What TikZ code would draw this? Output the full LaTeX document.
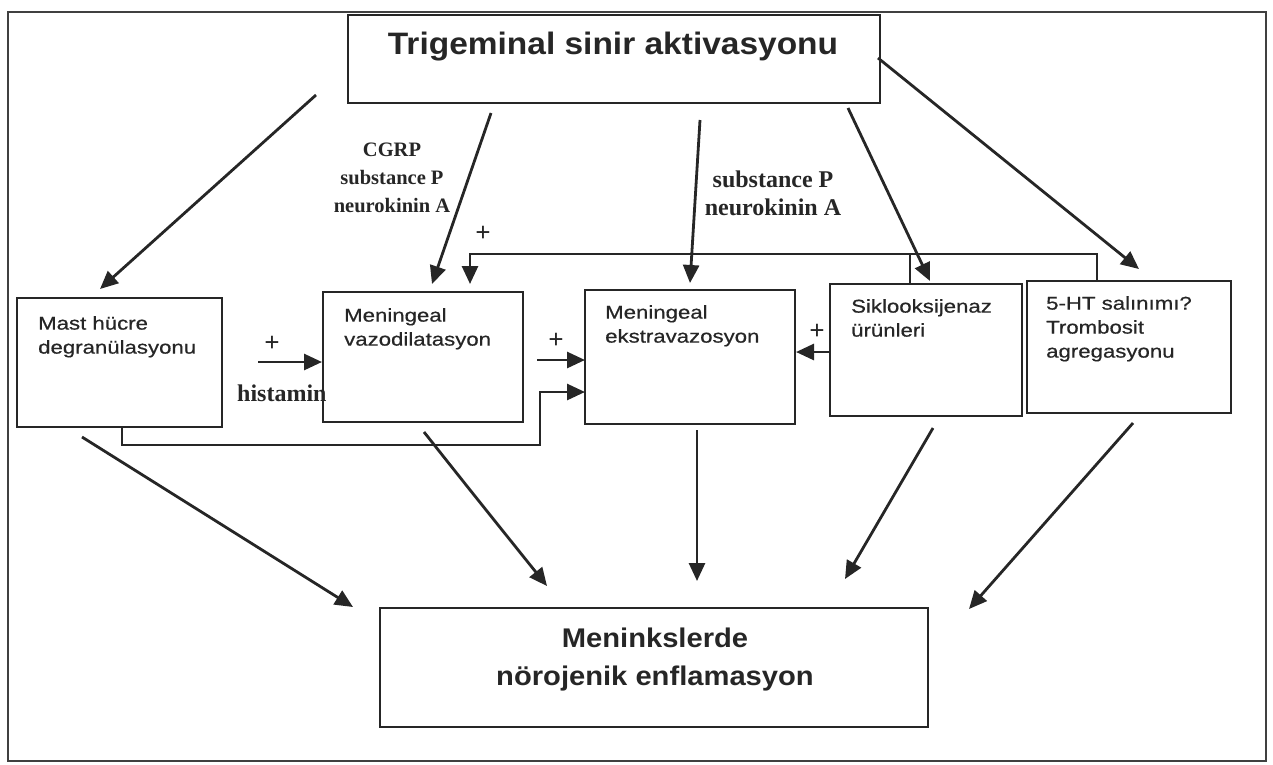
\documentclass[tikz,border=0pt]{standalone}
\usepackage{fontspec}
\setmainfont{Liberation Sans}
\newfontfamily\seriffam{Liberation Serif}
\newfontfamily\boxfont[FakeStretch=1.2,FakeBold=0.6]{Liberation Sans}
\newfontfamily\bigfont[FakeStretch=1.08]{Liberation Sans}
\usetikzlibrary{arrows.meta}
\begin{document}
\begin{tikzpicture}[x=1pt,y=-1pt,
  box/.style={draw=black!85, line width=2pt, inner sep=0pt, outer sep=0pt, anchor=north west},
  btext/.style={anchor=north west, align=left, inner sep=0pt, font=\boxfont\fontsize{18.5}{24}\selectfont, text=black!85},
  slabel/.style={align=center, inner sep=0pt, font=\seriffam\bfseries\fontsize{24}{28}\selectfont, text=black!85},
  plus/.style={inner sep=0pt, font=\seriffam\bfseries\fontsize{27}{27}\selectfont, text=black!85},
  arr/.style={draw=black!85, line width=2.8pt, -{Triangle[length=18pt,width=16pt]}},
  ln/.style={draw=black!85, line width=2.8pt}]
\useasboundingbox (0,0) rectangle (1273,764);
% outer frame
\draw[draw=black!75, line width=1.6pt] (8,12) rectangle (1266,761);

% boxes
\node[box, minimum width=532pt, minimum height=88pt] (trig) at (348,15) {};
\node[inner sep=0pt, font=\bigfont\bfseries\fontsize{31}{33}\selectfont, text=black!85] (trigt) at (613,47) {Trigeminal sinir aktivasyonu};

\node[box, minimum width=205pt, minimum height=129pt] (mast) at (17,298) {};
\node[btext] (mastt) at (38,316) {Mast hücre\\degranülasyonu};

\node[box, minimum width=200pt, minimum height=130pt] (vazo) at (323,292) {};
\node[btext] (vazot) at (344,308) {Meningeal\\vazodilatasyon};

\node[box, minimum width=210pt, minimum height=134pt] (ekst) at (585,290) {};
\node[btext] (ekstt) at (605,305) {Meningeal\\ekstravazosyon};

\node[box, minimum width=192pt, minimum height=132pt] (siklo) at (830,284) {};
\node[btext] (siklot) at (851,299) {Siklooksijenaz\\ürünleri};

\node[box, minimum width=204pt, minimum height=132pt] (ht) at (1027,281) {};
\node[btext] (htt) at (1046,296) {5-HT salınımı?\\Trombosit\\agregasyonu};

\node[box, minimum width=548pt, minimum height=119pt] (men) at (380,608) {};
\node[align=center, inner sep=0pt, font=\bigfont\bfseries\fontsize{27}{38}\selectfont, text=black!85] (ment) at (655,660) {Meninkslerde\\nörojenik enflamasyon};

% labels
\node[slabel, font=\seriffam\bfseries\fontsize{20.5}{28}\selectfont] (l1) at (392,178) {CGRP\\substance P\\neurokinin A};
\node[slabel] (l2) at (773,193) {substance P\\neurokinin A};
\node[slabel, anchor=west] (hist) at (237,393) {histamin};
\node[plus] (p1) at (483,234) {+};
\node[plus] (p2) at (272,344) {+};
\node[plus] (p3) at (556,341) {+};
\node[plus] (p4) at (817,332) {+};

% top arrows
\coordinate (a1s) at (316,95);  \coordinate (a1e) at (100,289);
\coordinate (a2s) at (491,113); \coordinate (a2e) at (432,284);
\coordinate (a3s) at (700,120); \coordinate (a3e) at (690,283);
\coordinate (a4s) at (848,108); \coordinate (a4e) at (930,281);
\coordinate (a5s) at (878,58);  \coordinate (a5e) at (1139,269);
\draw[arr] (a1s) -- (a1e);
\draw[arr] (a2s) -- (a2e);
\draw[arr] (a3s) -- (a3e);
\draw[arr] (a4s) -- (a4e);
\draw[arr] (a5s) -- (a5e);

% feedback line
\draw[arr] (1097,281) -- (1097,254) -- (470,254) -- (470,284);
\draw[ln] (910,284) -- (910,254);

% horizontal arrows
\draw[arr] (258,362) -- (322,362);
\draw[arr] (537,360) -- (585,360);
\draw[arr] (830,352) -- (796,352);
\draw[arr] (122,427) -- (122,445) -- (540,445) -- (540,392) -- (585,392);

% bottom arrows
\draw[arr] (82,437) -- (353,607);
\draw[arr] (424,432) .. controls (470,490) .. (547,586);
\draw[arr] (697,430) -- (697,581);
\draw[arr] (933,428) -- (845,579);
\draw[arr] (1133,423) -- (969,609);
\end{tikzpicture}
\end{document}
